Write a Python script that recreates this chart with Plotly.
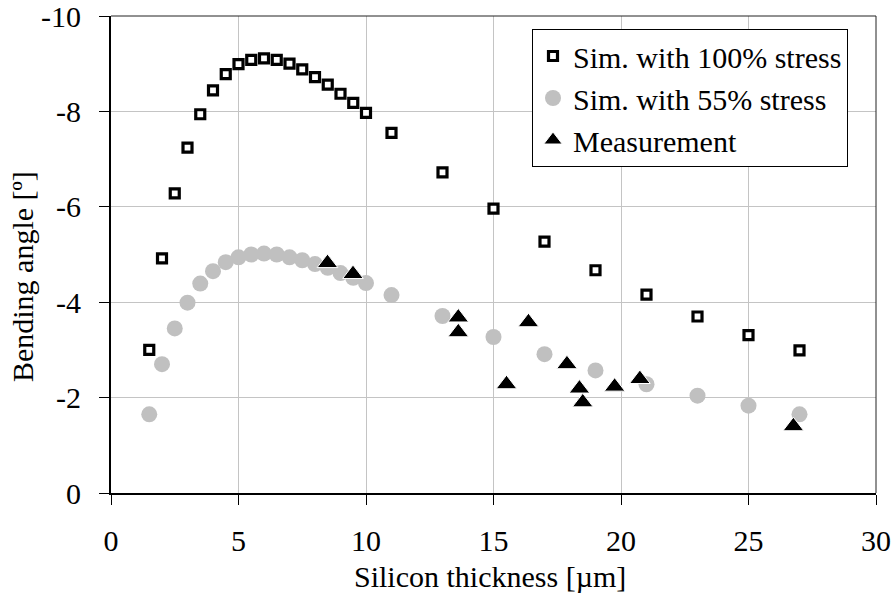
import plotly.graph_objects as go

# Silicon thickness (µm) for the simulation runs
sim_thickness = [1.5, 2, 2.5, 3, 3.5, 4, 4.5, 5, 5.5, 6, 6.5, 7, 7.5, 8, 8.5, 9, 9.5, 10,
                 11, 13, 15, 17, 19, 21, 23, 25, 27]

# Simulated bending angle (°) with full film stress
sim_100 = [-3.00, -4.92, -6.28, -7.24, -7.94, -8.44, -8.78, -8.99, -9.08, -9.11, -9.08, -9.00,
           -8.88, -8.72, -8.56, -8.37, -8.18, -7.97, -7.55, -6.72, -5.96, -5.27, -4.67, -4.16,
           -3.70, -3.31, -2.99]

# Simulated bending angle (°) with 55 % film stress
sim_55 = [-1.65, -2.70, -3.45, -3.99, -4.39, -4.65, -4.84, -4.94, -5.00, -5.02, -5.00, -4.94,
          -4.88, -4.80, -4.72, -4.61, -4.51, -4.40, -4.15, -3.71, -3.27, -2.91, -2.57, -2.28,
          -2.04, -1.83, -1.65]

# Measured samples
meas_thickness = [8.49, 9.49, 13.62, 13.62, 15.51, 16.37, 17.88, 18.37, 18.50, 19.75, 20.74, 26.76]
meas_angle = [-4.82, -4.59, -3.68, -3.37, -2.28, -3.58, -2.70, -2.19, -1.90, -2.23, -2.39, -1.40]

x_ticks = [0, 5, 10, 15, 20, 25, 30]
y_ticks = [0, -2, -4, -6, -8, -10]

FONT = "'Liberation Serif', 'Times New Roman', Times, serif"
FS = 30

fig = go.Figure()
fig.add_trace(go.Scatter(
    x=sim_thickness, y=sim_100, mode="markers", name="Sim. with 100% stress",
    marker=dict(symbol="square", size=9, color="white",
                line=dict(color="black", width=3.2)),
))
fig.add_trace(go.Scatter(
    x=sim_thickness, y=sim_55, mode="markers", name="Sim. with 55% stress",
    marker=dict(symbol="circle", size=16, color="#c0c0c0", line=dict(width=0)),
))
fig.add_trace(go.Scatter(
    x=meas_thickness, y=meas_angle, mode="markers", name="Measurement",
    marker=dict(symbol="triangle-up", size=18, color="black",
                line=dict(color="white", width=1)),
))

axis_common = dict(
    showgrid=True, gridcolor="#c4c4c4", gridwidth=1,
    showline=True, linecolor="black", linewidth=2,
    ticks="outside", ticklen=10, tickcolor="black", tickwidth=1,
    tickfont=dict(family=FONT, size=FS, color="black"),
    zeroline=False, mirror=False, ticklabeloverflow="allow", automargin=False,
)

fig.update_layout(
    width=893, height=599,
    margin=dict(l=111, r=17, t=16, b=106, autoexpand=False),
    paper_bgcolor="white", plot_bgcolor="white",
    font=dict(family=FONT, size=FS, color="black"),
    showlegend=True,
    legend=dict(
        x=(532 - 111) / 765, y=0.9727, xanchor="left", yanchor="top",
        bgcolor="white", bordercolor="black", borderwidth=1,
        font=dict(family=FONT, size=30, color="black"),
    ),
    xaxis=dict(range=[0, 30], tickvals=x_ticks, ticklabelstandoff=10, **axis_common),
    yaxis=dict(range=[0, -10], tickvals=y_ticks, ticktext=[str(v) for v in y_ticks],
               ticklabelstandoff=12, **axis_common),
    annotations=[
        dict(text="Silicon thickness [µm]", xref="paper", yref="paper",
             x=0.4954, y=-0.176, xanchor="center", yanchor="middle",
             showarrow=False, font=dict(family=FONT, size=FS, color="black")),
        dict(text="Bending angle [º]", xref="paper", yref="paper",
             x=-0.1163, y=0.4528, xanchor="center", yanchor="middle", textangle=-90,
             showarrow=False, font=dict(family=FONT, size=FS, color="black")),
    ],
    shapes=[
        dict(type="line", xref="paper", yref="paper", x0=0, x1=1, y0=1, y1=1,
             line=dict(color="#222222", width=1)),
        dict(type="line", xref="paper", yref="paper", x0=1, x1=1, y0=0, y1=1,
             line=dict(color="#222222", width=1)),
    ],
)

fig.write_html("out.html")
